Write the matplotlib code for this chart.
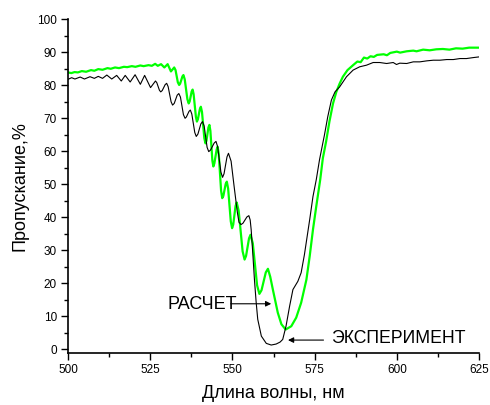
import matplotlib
matplotlib.use("Agg")
import matplotlib.pyplot as plt
from matplotlib.ticker import MultipleLocator

plt.rcParams["font.family"] = ["Liberation Sans", "DejaVu Sans"]

# --- эксперимент (чёрная кривая) ---
exp_wl = [500.0, 501.1, 502.1, 503.7, 505.0, 506.7, 508.0, 509.2, 510.5, 511.8,
          513.3, 514.8, 516.2, 517.4, 518.9, 520.4, 522.0, 523.3, 525.1, 526.6,
          527.0, 527.8, 528.2, 528.65, 529.55, 530.0, 530.45, 531.35, 531.8, 532.3,
          533.2, 533.7, 534.2, 535.1, 535.6, 536.0, 536.8, 537.2, 537.65, 538.55,
          539.0, 539.5, 540.4, 540.9, 541.4, 542.3, 542.8, 543.35, 544.45, 545.0,
          545.5, 546.5, 547.0, 547.45, 548.35, 548.8, 549.6, 550.5, 551.5, 552.0,
          552.6, 553.2, 554.4, 555.0, 555.4, 555.7, 556.2, 556.7,
          557.2, 557.7, 558.8, 560.3, 561.8, 563.3, 564.5, 565.3, 566.3, 567.4,
          568.4, 569.9, 570.9, 571.9, 573.5, 574.5, 575.5, 576.5, 578.0, 579.0,
          580.1, 581.2, 582.6, 584.7, 586.7, 588.7, 590.8, 592.8, 594.8, 596.9,
          598.9, 599.9, 600.9, 603.0, 605.0, 607.0, 609.1, 611.1, 613.1, 615.2,
          617.2, 619.2, 621.2, 623.3, 625.0]
exp_t = [81.8, 82.3, 81.9, 82.5, 81.9, 82.6, 82.1, 82.7, 82.1, 83.1,
         81.9, 83.0, 81.3, 83.0, 81.0, 83.2, 80.3, 83.0, 79.3, 81.3,
         80.8, 78.5, 78.0, 78.4, 80.2, 80.6, 79.6, 75.0, 74.0, 74.5,
         77.0, 77.5, 76.4, 71.1, 70.0, 70.4, 72.1, 72.5, 71.3, 65.7,
         64.5, 65.2, 68.3, 69.0, 67.7, 61.2, 59.9, 60.4, 62.5, 63.0,
         61.4, 53.7, 52.1, 53.2, 58.3, 59.4, 57.0, 49.5, 41.5, 38.5,
         37.8, 38.2, 40.1, 40.5, 39.2, 36.3, 29.0, 21.1,
         14.5, 9.1, 4.0, 1.8, 1.3, 1.6, 2.2, 3.0, 7.0, 13.1,
         18.1, 20.6, 23.2, 28.7, 39.3, 46.3, 51.4, 57.5, 65.0, 70.5,
         75.5, 78.0, 79.5, 82.6, 84.6, 85.6, 86.1, 86.9, 86.9, 86.6,
         86.9, 86.3, 86.7, 86.6, 87.1, 87.1, 87.4, 87.6, 87.6, 87.8,
         87.8, 88.1, 88.1, 88.4, 88.6]

# --- расчёт (зелёная кривая) ---
calc_wl = [500.0, 501.0, 502.0, 503.0, 504.2, 505.5, 507.0, 508.0, 509.2, 510.5,
           512.0, 513.0, 514.3, 515.5, 517.0, 518.0, 519.4, 520.5, 522.0, 523.0,
           524.5, 525.5, 526.5, 527.3, 528.3, 529.3, 530.3, 531.3, 532.3, 532.7,
           533.4, 533.8, 534.1, 534.8, 535.1, 535.5, 536.3, 536.7, 537.0, 537.6,
           537.9, 538.2, 538.9, 539.2, 539.5, 540.1, 540.4, 540.75, 541.45, 541.8,
           542.1, 542.7, 543.0, 543.3, 543.9, 544.2, 544.5, 545.2, 545.5, 545.85,
           546.55, 546.9, 547.25, 547.95, 548.3, 548.7, 549.5, 549.9, 550.25, 550.95,
           551.3, 551.9, 553.1, 553.7, 554.15, 555.05, 555.5, 556.2, 557.5, 558.2,
           558.85, 560.15, 560.8, 561.5, 562.3, 563.8, 564.9, 566.2, 567.9, 569.4,
           570.9, 572.5, 573.5, 574.5, 575.5, 576.7, 577.5, 578.5, 579.5, 580.6,
           581.6, 582.6, 583.6, 585.0, 586.7, 588.0, 589.0, 590.0, 591.0, 592.0,
           593.0, 594.0, 596.0, 597.0, 598.0, 600.0, 601.0, 603.0, 605.0, 606.0,
           608.0, 610.0, 612.0, 614.0, 616.0, 618.0, 620.0, 622.0, 625.0]
calc_t = [83.9, 83.7, 84.0, 83.9, 84.3, 84.1, 84.6, 84.4, 84.9, 84.7,
          85.2, 85.0, 85.4, 85.2, 85.6, 85.5, 85.8, 85.6, 86.0, 85.8,
          86.1, 85.9, 86.5, 85.9, 86.4, 85.4, 86.4, 84.2, 85.4, 84.6,
          80.9, 80.1, 80.5, 82.7, 83.1, 81.8, 75.8, 74.5, 75.1, 78.1,
          78.7, 77.3, 70.4, 69.0, 69.7, 72.8, 73.5, 71.9, 64.0, 62.4,
          63.2, 67.2, 68.0, 66.2, 57.2, 55.4, 56.3, 60.5, 61.4, 59.1,
          48.1, 45.8, 46.5, 50.1, 50.8, 48.7, 38.8, 36.7, 37.8, 43.4,
          44.5, 42.0, 29.7, 27.2, 28.3, 33.6, 34.7, 32.1, 19.4, 16.8,
          17.9, 23.3, 24.4, 22.0, 18.1, 11.1, 7.6, 6.0, 7.0, 9.6,
          14.1, 21.1, 28.2, 36.3, 43.3, 51.4, 57.9, 63.0, 69.0, 74.5,
          78.0, 80.5, 82.6, 84.6, 86.1, 87.2, 87.0, 88.4, 88.1, 88.8,
          88.6, 89.2, 89.4, 89.1, 89.8, 90.2, 89.9, 90.3, 90.5, 90.3,
          90.8, 90.6, 90.9, 91.0, 90.8, 91.2, 91.1, 91.4, 91.4]

fig = plt.figure(figsize=(4.9, 4.05), dpi=100)
ax = fig.add_axes([0.1388, 0.1277, 0.8388, 0.8247])

ax.plot(calc_wl, calc_t, color="#00ff00", lw=1.6, zorder=2)
ax.plot(exp_wl, exp_t, color="black", lw=0.8, zorder=3)

ax.set_xlim(500, 625)
ax.set_ylim(-1.2, 100)
ax.xaxis.set_major_locator(MultipleLocator(25))
ax.xaxis.set_minor_locator(MultipleLocator(12.5))
ax.yaxis.set_major_locator(MultipleLocator(10))
ax.yaxis.set_minor_locator(MultipleLocator(5))

for s in ["top", "right"]:
    ax.spines[s].set_visible(False)
for s in ["left", "bottom"]:
    ax.spines[s].set_linewidth(1.2)
ax.tick_params(which="major", direction="out", length=5, width=1, labelsize=8.5, pad=3)
ax.tick_params(which="minor", direction="out", length=3, width=1)

ax.set_xlabel("Длина волны, нм", fontsize=13, labelpad=6)
ax.set_ylabel("Пропускание,%", fontsize=13, labelpad=6)

# подписи кривых
ax.text(540.8, 13.6, "РАСЧЕТ", fontsize=13, ha="center", va="center")
ax.annotate("", xy=(561.8, 13.8), xytext=(549.5, 13.8),
            arrowprops=dict(arrowstyle="-|>", color="black", lw=0.8, mutation_scale=8,
                            shrinkA=0, shrinkB=0))
ax.text(579.9, 3.3, "ЭКСПЕРИМЕНТ", fontsize=12.7, ha="left", va="center")
ax.annotate("", xy=(566.9, 2.8), xytext=(577.7, 2.8),
            arrowprops=dict(arrowstyle="-|>", color="black", lw=0.8, mutation_scale=8,
                            shrinkA=0, shrinkB=0))

fig.savefig("out.png", dpi=100)
